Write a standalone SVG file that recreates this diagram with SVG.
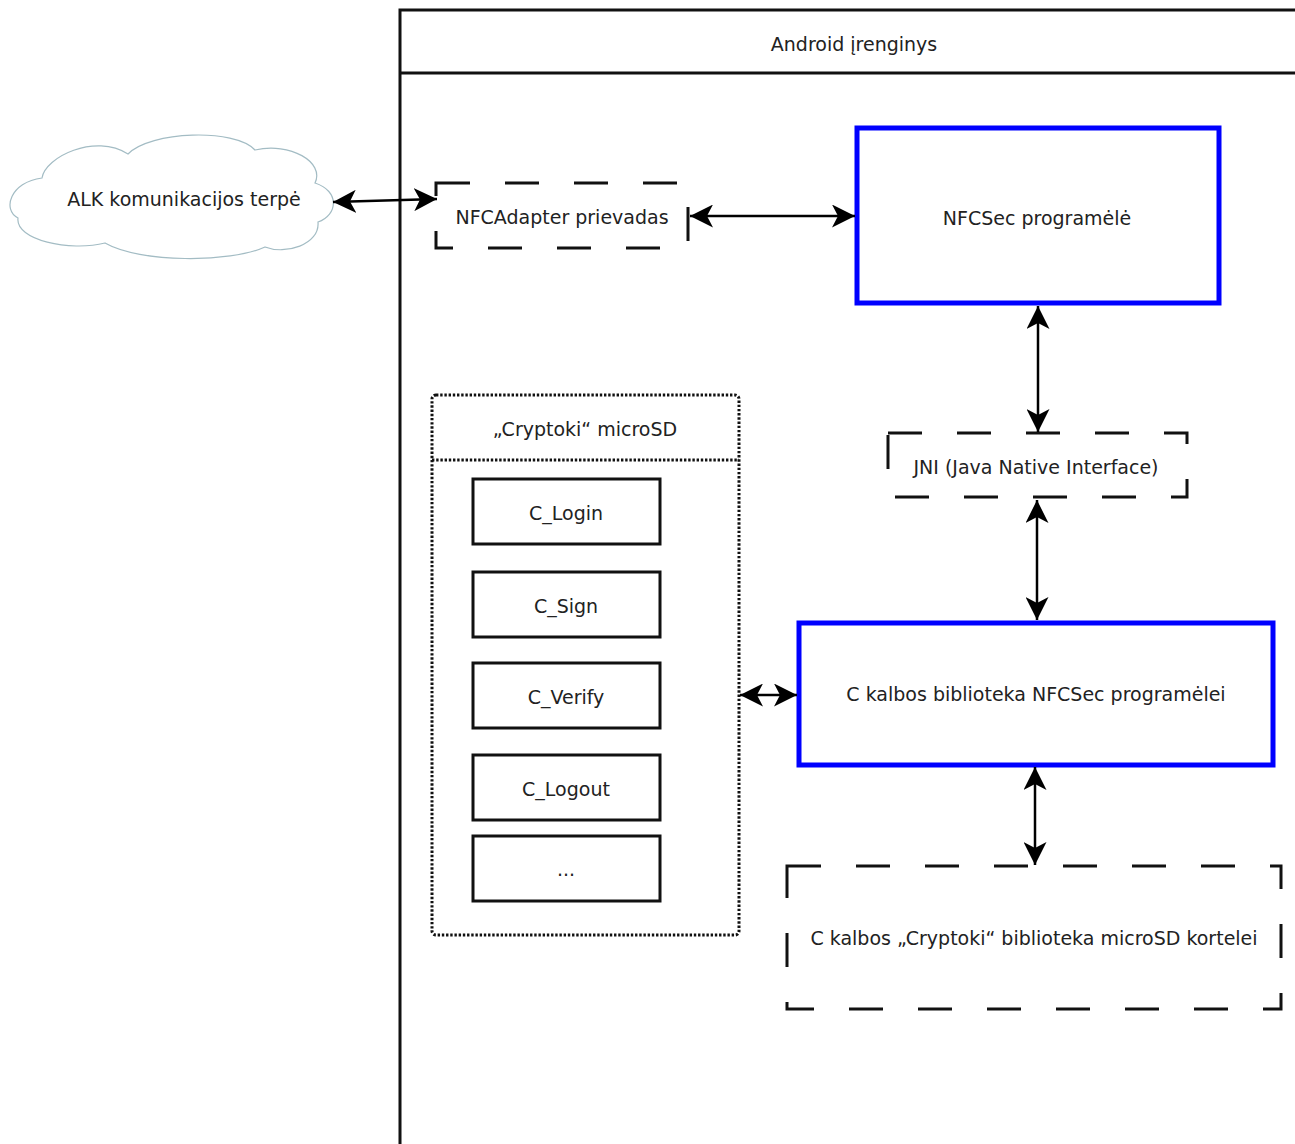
<svg xmlns="http://www.w3.org/2000/svg" width="1295" height="1144" viewBox="0 0 1295 1144">
<style>
text{font-family:"DejaVu Sans","Liberation Sans",sans-serif;font-size:19px;fill:#222;text-anchor:middle}
.dash{fill:none;stroke:#111;stroke-width:3;stroke-dasharray:34 35}
.blue{fill:#fff;stroke:#0000ff;stroke-width:5}
.fn{fill:#fff;stroke:#111;stroke-width:3}
.dot{fill:none;stroke:#111;stroke-width:3;stroke-dasharray:2.4 1.8}
.con{fill:none;stroke:#000;stroke-width:2.5;marker-start:url(#arr);marker-end:url(#arr)}
</style>
<defs>
<marker id="arr" markerUnits="userSpaceOnUse" viewBox="0 0 23 23" markerWidth="23" markerHeight="23" refX="23" refY="11.5" orient="auto-start-reverse">
<path d="M23,11.5 L0,0 L6,11.5 L0,23 Z" fill="#000"/>
</marker>
</defs>
<rect width="1295" height="1144" fill="#fff"/>
<g id="android">
<rect x="400" y="10" width="905" height="1150" fill="none" stroke="#111" stroke-width="3"/>
<line x1="400" y1="73" x2="1295" y2="73" stroke="#111" stroke-width="3"/>
<text x="854" y="51">Android įrenginys</text>
</g>
<g id="cloud">
<path d="M42,178 C45,157 95,133 128,154 C150,131 235,128 255,150 C290,142 325,162 315,183 C340,191 338,215 318,222 C320,245 285,255 265,247 C230,263 140,263 105,243 C70,252 15,240 18,218 C2,210 10,182 42,178 Z" fill="#fff" stroke="#a3bcc4" stroke-width="1.2"/>
<text x="184" y="206">ALK komunikacijos terpė</text>
</g>
<g id="nfcadapter">
<rect class="dash" x="436" y="183" width="252" height="65"/>
<text x="562" y="224">NFCAdapter prievadas</text>
</g>
<g id="nfcsec">
<rect class="blue" x="857" y="128" width="362" height="175"/>
<text x="1037" y="225">NFCSec programėlė</text>
</g>
<g id="jni">
<rect class="dash" x="888" y="433" width="299" height="64"/>
<text x="1036" y="474">JNI (Java Native Interface)</text>
</g>
<g id="clib">
<rect class="blue" x="799" y="623" width="474" height="142"/>
<text x="1036" y="701">C kalbos biblioteka NFCSec programėlei</text>
</g>
<g id="cryptokilib">
<rect class="dash" x="787" y="866" width="494" height="143"/>
<text x="1034" y="945">C kalbos „Cryptoki“ biblioteka microSD kortelei</text>
</g>
<g id="microsd">
<rect class="dot" x="432" y="395" width="307" height="540" rx="4"/>
<line class="dot" x1="432" y1="460" x2="739" y2="460"/>
<text x="585" y="436">„Cryptoki“ microSD</text>
</g>
<g id="c_login"><rect class="fn" x="473" y="479" width="187" height="65"/><text x="566" y="520">C_Login</text></g>
<g id="c_sign"><rect class="fn" x="473" y="572" width="187" height="65"/><text x="566" y="613">C_Sign</text></g>
<g id="c_verify"><rect class="fn" x="473" y="663" width="187" height="65"/><text x="566" y="704">C_Verify</text></g>
<g id="c_logout"><rect class="fn" x="473" y="755" width="187" height="65"/><text x="566" y="796">C_Logout</text></g>
<g id="c_more"><rect class="fn" x="473" y="836" width="187" height="65"/><text x="566" y="876">...</text></g>
<g id="connectors">
<path class="con" d="M333,202 L437,199"/>
<path class="con" d="M690,216 L855,216"/>
<path class="con" d="M1038,306 L1038,432"/>
<path class="con" d="M1037,500 L1037,620"/>
<path class="con" d="M1035,767 L1035,865"/>
<path class="con" d="M740,695 L797,695"/>
</g>
</svg>
